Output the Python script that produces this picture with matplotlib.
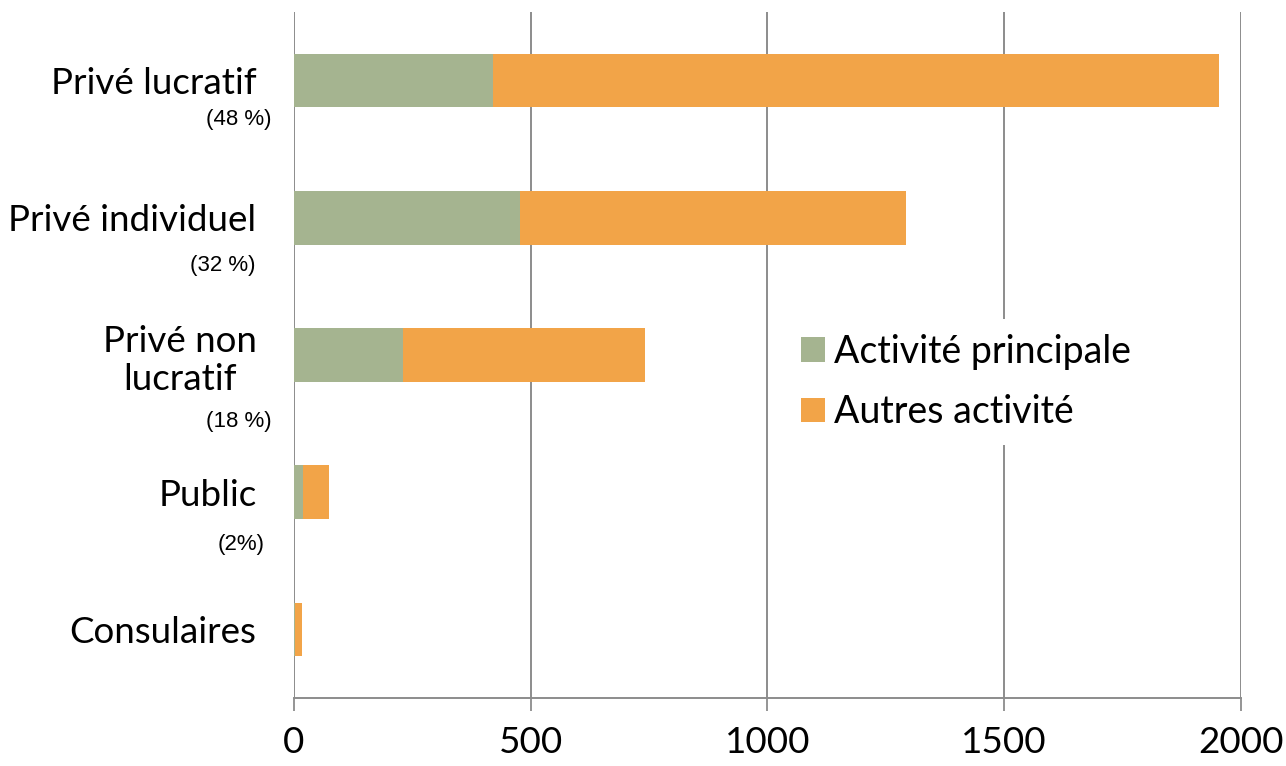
import matplotlib
matplotlib.use("Agg")
import matplotlib.pyplot as plt
import numpy as np

categories = ["Privé lucratif", "Privé individuel", "Privé non\nlucratif", "Public", "Consulaires"]
shares = ["(48 %)", "(32 %)", "(18 %)", "(2%)", ""]
principale = [420, 478, 230, 20, 3]
autres = [1533, 814, 511, 54, 13]
series_names = ["Activité principale", "Autres activité"]
xticks = [0, 500, 1000, 1500, 2000]

GREEN, ORANGE, GRID = "#A5B490", "#F2A448", "#8C8C8C"
FONT = "Lato"

fig = plt.figure(figsize=(12.86, 7.66), dpi=100)
ax = fig.add_axes([0.2286, 0.0888, 0.7364, 0.8955])

y = np.arange(len(categories))
ax.barh(y, principale, height=0.39, color=GREEN, label=series_names[0], zorder=3)
ax.barh(y, autres, left=principale, height=0.39, color=ORANGE, label=series_names[1], zorder=3)

ax.set_ylim(len(categories) - 0.5, -0.5)
ax.set_xlim(0, 2000)
ax.set_xticks(xticks)
ax.set_xticklabels([str(v) for v in xticks], fontsize=26.5, family=FONT)
ax.tick_params(axis="x", length=9, width=1.3, color=GRID, pad=11)
ax.set_yticks(y)
ax.set_yticklabels(categories, fontsize=26.5, family=FONT, multialignment="center")
ax.tick_params(axis="y", length=0, pad=27)

ax.grid(axis="x", color=GRID, linewidth=1.4, zorder=0)
for s in ("top", "right", "left"):
    ax.spines[s].set_visible(False)
ax.spines["bottom"].set_color(GRID)
ax.spines["bottom"].set_linewidth(1.4)

# small share labels under the category names (offsets in points from the axis)
share_offsets = [(-16, -28), (-28, -34), (-16, -48), (-21, -38), (0, 0)]
for yi, txt, (dx, dy) in zip(y, shares, share_offsets):
    if txt:
        ax.annotate(txt, xy=(0, yi), xycoords=("axes fraction", "data"),
                    xytext=(dx, dy), textcoords="offset points",
                    ha="right", va="center", fontsize=16, family="Liberation Sans")

leg = ax.legend(loc="upper left", bbox_to_anchor=(0.52, 0.553), frameon=True,
                facecolor="white", edgecolor="none", framealpha=1, fancybox=False,
                prop={"family": FONT, "size": 27}, handlelength=0.62, handleheight=0.62,
                handletextpad=0.25, labelspacing=0.65, borderaxespad=0)
leg.set_zorder(5)

fig.savefig("out.png", dpi=100, facecolor="white")
